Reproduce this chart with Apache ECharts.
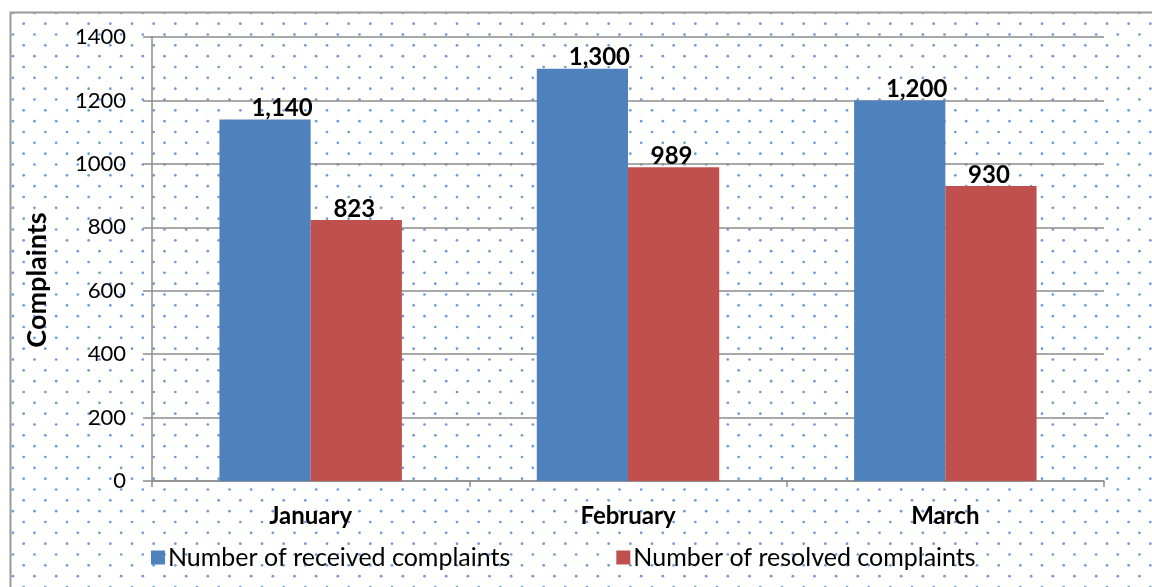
<!DOCTYPE html>
<html>
<head>
<meta charset="utf-8">
<script src="https://cdn.jsdelivr.net/npm/echarts@6/dist/echarts.min.js"></script>
<style>
  html, body { margin: 0; padding: 0; background: #fff; }
  #main { width: 1152px; height: 587px; }
</style>
</head>
<body>
<div id="main"></div>
<script>
const months = ['January', 'February', 'March'];
const received = [1140, 1300, 1200];
const resolved = [823, 989, 930];
const seriesNames = ['Number of received complaints', 'Number of resolved complaints'];

// dotted paper texture, like the office chart fill
function dotTile() {
    const c = document.createElement('canvas');
    c.width = 65; c.height = 65;
    const ctx = c.getContext('2d');
    ctx.fillStyle = '#6f98d6';
    const step = 65 / 3;
    for (let i = 0; i < 3; i++) {
        for (let j = 0; j < 3; j++) {
            ctx.beginPath();
            ctx.arc(2 + i * step, 2 + j * step, 1.35, 0, Math.PI * 2);
            ctx.fill();
            ctx.beginPath();
            ctx.arc(2 + i * step + step / 2, 2 + j * step + step / 2, 1.35, 0, Math.PI * 2);
            ctx.fill();
        }
    }
    return c;
}

const font = 'Lato, "Open Sans", sans-serif';
const fmt = (p) => p.value.toLocaleString('en-US');

const chart = echarts.init(document.getElementById('main'));
chart.setOption({
    animation: false,
    backgroundColor: '#fff',
    graphic: [{
        type: 'rect',
        z: -10,
        silent: true,
        shape: { x: 10.5, y: 12.5, width: 1200, height: 640 },
        style: { fill: { image: dotTile(), repeat: 'repeat' }, stroke: '#9a9a9a', lineWidth: 2 }
    }],
    grid: { left: 152, right: 48, top: 37, bottom: 106 },
    legend: {
        data: seriesNames,
        left: 146,
        top: 540,
        icon: 'rect',
        itemWidth: 14,
        itemHeight: 14,
        itemGap: 106,
        textStyle: { fontFamily: font, fontSize: 25, color: '#000', padding: [0, 0, 0, -2] }
    },
    xAxis: {
        type: 'category',
        data: months,
        axisLine: { lineStyle: { color: '#8c8c8c', width: 1.5 } },
        axisTick: { show: true, length: 6, lineStyle: { color: '#8c8c8c', width: 1.5 } },
        axisLabel: { fontFamily: font, fontSize: 24, fontWeight: 'bold', color: '#000', margin: 23 }
    },
    yAxis: {
        type: 'value',
        min: 0,
        max: 1400,
        interval: 200,
        name: 'Complaints',
        nameLocation: 'middle',
        nameGap: 101,
        nameRotate: 90,
        nameTextStyle: { fontFamily: font, fontSize: 27, fontWeight: 'bold', color: '#000', padding: [0, 42, 0, 0] },
        axisLine: { show: true, lineStyle: { color: '#8c8c8c', width: 1.5 } },
        axisTick: { show: true, inside: false, length: 9, lineStyle: { color: '#8c8c8c', width: 1.5 } },
        axisLabel: { fontFamily: font, fontSize: 22, color: '#000', margin: 26, formatter: (v) => String(v) },
        splitLine: { lineStyle: { color: '#8c8c8c', width: 1.5 } }
    },
    series: [{
        name: seriesNames[0],
        type: 'bar',
        data: received,
        barGap: '0%',
        barCategoryGap: '42.5%',
        itemStyle: { color: '#4f81bd' },
        label: { show: true, position: 'top', distance: -1, offset: [17, 0], formatter: fmt,
                 fontFamily: font, fontSize: 24, fontWeight: 'bold', color: '#000' }
    }, {
        name: seriesNames[1],
        type: 'bar',
        data: resolved,
        itemStyle: { color: '#c0504d' },
        label: { show: true, position: 'top', distance: -1, offset: [-2, 0], formatter: fmt,
                 fontFamily: font, fontSize: 24, fontWeight: 'bold', color: '#000' }
    }]
});
</script>
</body>
</html>
